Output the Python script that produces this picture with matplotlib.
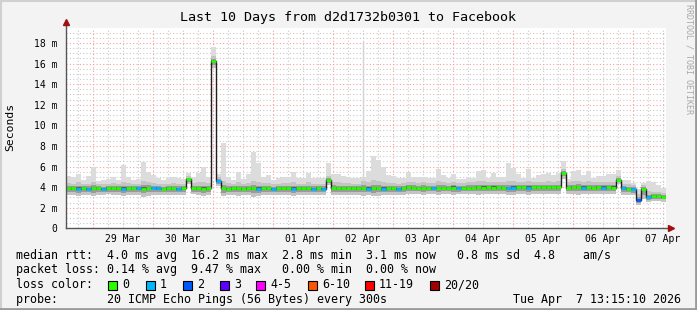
import matplotlib
matplotlib.use('Agg')
import matplotlib.pyplot as plt
from matplotlib.patches import Rectangle
from matplotlib.lines import Line2D
import numpy as np

# time axis: hours from Mar 28 13:15:10, one value every 2 hours
step_h = 2
start_hod = 13 + 15/60 + 10/3600

med = [3.88,3.88,3.85,3.88,3.85, 3.88,3.88,3.85,3.88,3.88, 3.88,3.85,3.92,3.88,3.88, 3.85,3.95,3.92,3.88,3.85,
       3.88,3.88,3.85,3.88,4.75, 3.88,3.88,3.85,3.88,16.2, 4.6,3.88,3.85,3.88,3.88, 3.85,3.88,3.88,3.85,3.88,
       3.88,3.85,3.88,3.88,3.88, 3.85,3.88,3.88,3.88,3.85, 3.88,3.85,4.7,3.88,3.88, 3.88,3.9,3.88,3.88,3.88,
       3.85,3.88,3.88,3.85,3.88, 3.88,3.85,3.88,4.0,3.95, 3.92,3.95,3.95,3.92,3.92, 3.95,3.95,3.95,3.9,3.95,
       3.95,3.95,3.98,3.95,3.98, 3.95,3.98,3.95,3.92,3.95, 3.98,3.98,3.95,3.98,4.0, 4.0,4.0,4.0,4.0,5.4,
       3.95,3.98,4.0,3.95,3.98, 3.95,3.98,3.95,3.98,3.95, 4.7,3.88,3.85,3.8,2.75, 3.85,3.0,3.15,3.15,3.05]

smoke_max = [5.1,5.0,5.3,4.7,5.1, 6.0,4.6,4.7,4.8,5.0, 4.7,6.1,5.0,4.7,4.8, 6.4,5.5,5.2,4.9,4.7,
             4.9,5.0,4.9,4.8,5.4, 5.0,5.4,6.0,5.0,17.6, 5.3,8.3,5.0,4.7,5.5, 4.8,5.3,7.4,6.3,5.0,
             5.2,4.7,4.9,5.0,5.0, 5.5,4.9,4.9,5.4,4.9, 4.9,4.9,6.3,5.3,5.3, 5.1,5.0,4.9,4.9,5.0,
             5.6,7.0,6.6,6.0,5.2, 5.1,4.9,4.9,5.5,5.0, 5.0,5.0,4.9,4.9,5.8, 5.2,4.9,5.3,4.8,4.8,
             4.9,4.9,5.6,5.7,4.9, 5.4,5.0,5.0,6.3,5.9, 5.3,4.9,5.8,4.9,5.2, 5.3,5.4,5.2,5.4,6.5,
             4.8,5.6,5.7,5.2,5.6, 4.9,5.1,5.1,5.3,5.3, 5.7,4.7,4.7,4.4,3.8, 4.4,4.6,4.5,4.2,3.9]

smoke_hi = [4.4,4.35,4.45,4.3,4.35, 4.5,4.3,4.3,4.35,4.4, 4.3,4.5,4.4,4.3,4.35, 4.55,4.45,4.4,4.35,4.3,
            4.35,4.4,4.35,4.3,5.1, 4.4,4.45,4.5,4.4,16.7, 5.0,4.6,4.4,4.3,4.45, 4.35,4.4,4.55,4.5,4.4,
            4.4,4.3,4.35,4.4,4.4, 4.5,4.35,4.35,4.45,4.35, 4.35,4.35,5.1,4.5,4.45, 4.4,4.4,4.35,4.35,4.6,
            4.5,4.7,4.6,4.5,4.4, 4.4,4.35,4.4,4.5,4.45, 4.4,4.45,4.4,4.4,4.55, 4.45,4.4,4.5,4.4,4.4,
            4.45,4.45,4.55,4.6,4.45, 4.5,4.45,4.45,4.6,4.55, 4.5,4.45,4.55,4.45,4.5, 4.5,4.55,4.5,4.55,5.8,
            4.45,4.55,4.6,4.5,4.55, 4.45,4.5,4.5,4.5,4.5, 5.1,4.3,4.3,4.2,3.3, 4.2,3.6,3.55,3.55,3.45]

smoke_lo = [3.2,3.25,3.15,3.25,3.2, 3.1,3.25,3.2,3.3,3.2, 3.25,3.15,3.2,3.25,3.2, 3.05,3.15,3.2,3.25,3.2,
            3.25,3.2,3.25,3.2,4.3, 3.3,3.2,3.15,3.2,15.6, 4.1,3.1,3.2,3.25,3.15, 3.2,3.25,3.05,3.1,3.2,
            3.25,3.2,3.25,3.2,3.2, 3.15,3.25,3.2,3.2,3.25, 3.2,3.25,4.2,3.2,3.25, 3.2,3.25,3.25,3.2,3.15,
            3.2,3.1,3.15,3.2,3.25, 3.25,3.2,3.25,3.3,3.3, 3.3,3.25,3.3,3.3,3.25, 3.3,3.3,3.25,3.3,3.3,
            3.3,3.3,3.25,3.3,3.3, 3.3,3.3,3.3,3.2,3.25, 3.3,3.3,3.25,3.3,3.3, 3.3,3.3,3.3,3.3,4.8,
            3.3,3.3,3.25,3.3,3.3, 3.3,3.3,3.3,3.3,3.3, 4.3,3.2,3.2,3.2,2.3, 2.8,2.6,2.65,2.65,2.6]

# single very slow ping on 02 Apr (hours from start, ms)
outlier_t = [118.7]
outlier_v = [18.2]

# lost pings out of 20 per step
loss = [0,0,1,0,1, 0,0,1,0,0, 0,1,0,0,1, 0,0,1,1,0,
        0,0,1,0,0, 0,0,0,0,0, 1,0,0,0,0, 0,0,0,1,0,
        0,1,0,0,0, 1,0,0,0,1, 0,1,0,0,0, 0,0,0,0,0,
        1,0,0,1,0, 0,1,0,0,0, 0,0,0,1,0, 0,0,0,1,0,
        0,0,0,0,0, 0,0,0,1,1, 0,0,1,0,0, 0,0,0,0,0,
        0,0,0,1,0, 0,0,1,0,0, 0,1,0,1,2, 0,1,0,0,0]

day_labels = ['29 Mar', '30 Mar', '31 Mar', '01 Apr', '02 Apr',
              '03 Apr', '04 Apr', '05 Apr', '06 Apr', '07 Apr']
loss_names = ['0', '1', '2', '3', '4-5', '6-10', '11-19', '20/20']
loss_colors = ['#26ff00', '#00b8ff', '#0059ff', '#5e00ff', '#ff00ff', '#ff5500', '#ff0000', '#a00000']

med = np.array(med)
smoke_max = np.array(smoke_max)
smoke_hi = np.array(smoke_hi)
smoke_lo = np.array(smoke_lo)
n = len(med)
t = np.arange(n + 1) * step_h
ext = lambda a: np.append(a, a[-1])

mono = 'DejaVu Sans Mono'
W, H = 697, 310
fig = plt.figure(figsize=(W/100, H/100), dpi=100, facecolor='#f3f3f3')
ax = fig.add_axes([66/W, (H-228.3)/H, 600/W, 200.8/H])
ax.set_facecolor('white')
ax.set_xlim(0, n*step_h)
ax.set_ylim(0, 19.5)

# grid
midnights = np.arange(1, 11)*24 - start_hod
for h in np.arange(midnights[0]-6, n*step_h, 6):
    if h <= 0:
        continue
    if np.any(np.isclose(h, midnights)):
        ax.axvline(h, color='#ff9c9c', lw=0.8, ls=(0, (1, 2)), zorder=0.6)
    else:
        ax.axvline(h, color='#c8c8c8', lw=0.8, ls=(0, (1, 2)), zorder=0.5)
for y in np.arange(0.5, 19.5, 0.5):
    if y % 2 == 0:
        ax.axhline(y, color='#ff9c9c', lw=0.8, ls=(0, (1, 2)), zorder=0.6)
    else:
        ax.axhline(y, color='#c8c8c8', lw=0.8, ls=(0, (1, 2)), zorder=0.5)

# smoke
lo_mid = med - 0.55*(med - smoke_lo)
hi_mid = med + 0.45*(smoke_hi - med)
lo_core = med - 0.2*(med - smoke_lo)
hi_core = med + 0.2*(smoke_hi - med)
ax.fill_between(t, ext(smoke_lo), ext(smoke_max), step='post', color='#dcdcdc', lw=0, zorder=1)
ax.fill_between(t, ext(smoke_lo), ext(smoke_hi), step='post', color='#c4c4c4', lw=0, zorder=1.1)
ax.fill_between(t, ext(lo_mid), ext(hi_mid), step='post', color='#9a9a9a', lw=0, zorder=1.2)
ax.fill_between(t, ext(lo_core), ext(hi_core), step='post', color='#606060', lw=0, zorder=1.3)
for ot, ov in zip(outlier_t, outlier_v):
    ax.vlines(ot, 4.0, ov, color='#d4d4d4', lw=1.0, zorder=1)

# median line coloured by loss
ax.step(t, ext(med), where='post', color='#202020', lw=1.0, zorder=3)
for i in range(n):
    ax.hlines(med[i], t[i], t[i+1], color=loss_colors[loss[i]], lw=2.0, zorder=4)

# axes
for s in ['top', 'right', 'left', 'bottom']:
    ax.spines[s].set_visible(False)
ax.plot([0, 0], [0, 1.022], transform=ax.transAxes, color='#555555', lw=1, clip_on=False, zorder=5)
ax.plot([0, 1.006], [0, 0], transform=ax.transAxes, color='#555555', lw=1, clip_on=False, zorder=5)
ax.plot([0], [1.025], marker='^', ms=4.5, color='#a01010', transform=ax.transAxes, clip_on=False, zorder=6)
ax.plot([1.009], [0], marker='>', ms=4.5, color='#a01010', transform=ax.transAxes, clip_on=False, zorder=6)

ax.set_yticks(np.arange(0, 19, 2))
ax.set_yticklabels(['0'] + ['%d m' % v for v in range(2, 19, 2)], family=mono, fontsize=7)
ax.set_xticks(midnights + 12)
ax.set_xticklabels(day_labels, family=mono, fontsize=7)
ax.tick_params(length=0, pad=4)
ax.tick_params(axis='y', pad=6)

fig.text(348.5/W, 1 - 18/H, 'Last 10 Days from d2d1732b0301 to Facebook', family=mono,
         fontsize=9.6, ha='center', va='center')
fig.text(10/W, 1 - 127/H, 'Seconds', family=mono, fontsize=8.2, rotation=90, ha='center', va='center')
fig.text(689/W, 1 - 4/H, 'RRDTOOL / TOBI OETIKER', family=mono, fontsize=6, rotation=-90,
         ha='center', va='top', color='#a8a8a8')

fs = 8.4
rows = ['median rtt:  4.0 ms avg  16.2 ms max  2.8 ms min  3.1 ms now   0.8 ms sd  4.8    am/s',
        'packet loss: 0.14 % avg  9.47 % max   0.00 % min  0.00 % now',
        'loss color:',
        'probe:       20 ICMP Echo Pings (56 Bytes) every 300s']
for k, r in enumerate(rows):
    fig.text(16/W, 1 - (255 + 15*k)/H, r, family=mono, fontsize=fs, ha='left', va='center')
fig.text(681/W, 1 - 300/H, 'Tue Apr  7 13:15:10 2026', family=mono, fontsize=fs, ha='right', va='center')

sq_x = [108, 146, 183, 220, 256, 308, 365, 430]
for x, c, name in zip(sq_x, loss_colors, loss_names):
    fig.add_artist(Rectangle((x/W, 1 - 290/H), 9/W, 9/H, facecolor=c, edgecolor='black', lw=0.8))
    fig.text((x + 14)/W, 1 - 285/H, name, family=mono, fontsize=fs, ha='left', va='center')

# frame
fig.add_artist(Line2D([0, 1], [1 - 0.5/H, 1 - 0.5/H], color='#d0d0d0', lw=1.5))
fig.add_artist(Line2D([0.5/W, 0.5/W], [0, 1], color='#d0d0d0', lw=1.5))
fig.add_artist(Line2D([0, 1], [0.8/H, 0.8/H], color='#9a9a9a', lw=2))
fig.add_artist(Line2D([1 - 0.8/W, 1 - 0.8/W], [0, 1], color='#9a9a9a', lw=2))

fig.savefig('out.png', dpi=100, facecolor=fig.get_facecolor())
